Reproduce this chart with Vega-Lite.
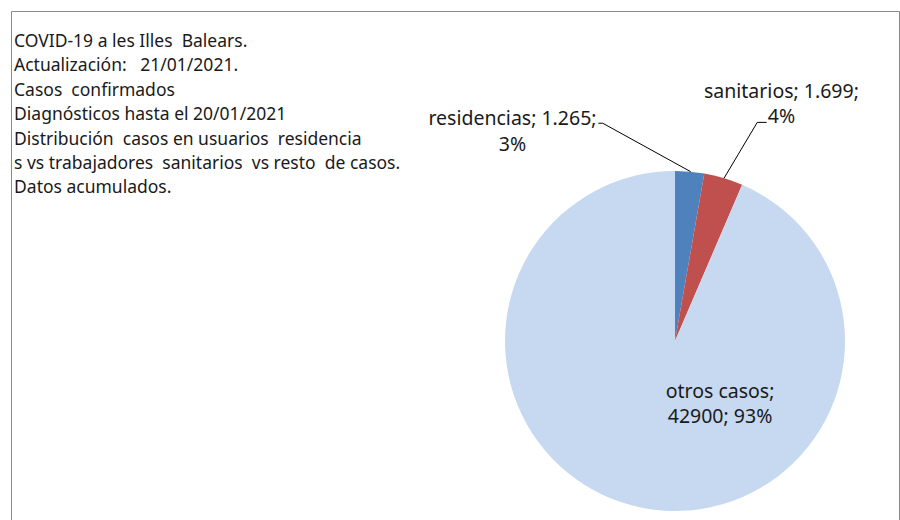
{
  "$schema": "https://vega.github.io/schema/vega-lite/v6.json",
  "width": 888,
  "height": 509,
  "autosize": "none",
  "padding": {"left": 11, "top": 11, "right": 1, "bottom": 0},
  "background": "white",
  "config": {"view": {"stroke": "#8a8a8a", "strokeWidth": 1}, "font": "Noto Sans"},
  "data": {"values": [
    {"categoria": "residencias", "casos": 1265, "etiqueta": ["residencias; 1.265;", "3%"]},
    {"categoria": "sanitarios", "casos": 1699, "etiqueta": ["sanitarios; 1.699;", "4%"]},
    {"categoria": "otros casos", "casos": 42900, "etiqueta": ["otros casos;", "42900; 93%"]}
  ]},
  "layer": [
    {
      "mark": {"type": "arc", "outerRadius": 170},
      "encoding": {
        "theta": {"field": "casos", "type": "quantitative", "stack": true},
        "order": {"field": "casos", "sort": "ascending"},
        "color": {"field": "categoria", "type": "nominal", "legend": null,
          "scale": {"domain": ["residencias", "sanitarios", "otros casos"], "range": ["#4F81BD", "#C0504D", "#C6D9F1"]}},
        "x": {"datum": 0, "type": "quantitative", "axis": null, "scale": {"domain": [-3.90588, 1.31765], "nice": false, "zero": false}},
        "y": {"datum": 0, "type": "quantitative", "axis": null, "scale": {"domain": [-1.05294, 1.94118], "nice": false, "zero": false}}
      }
    },
    {
      "data": {"values": [{}]},
      "mark": {"type": "rule", "color": "black", "strokeWidth": 1},
      "encoding": {"x": {"datum": -0.451, "type": "quantitative"}, "y": {"datum": 1.281, "type": "quantitative"}, "x2": {"datum": -0.425}, "y2": {"datum": 1.281}}
    },
    {
      "data": {"values": [{}]},
      "mark": {"type": "rule", "color": "black", "strokeWidth": 1},
      "encoding": {"x": {"datum": -0.425, "type": "quantitative"}, "y": {"datum": 1.281, "type": "quantitative"}, "x2": {"datum": 0.0924}, "y2": {"datum": 0.996}}
    },
    {
      "data": {"values": [{}]},
      "mark": {"type": "rule", "color": "black", "strokeWidth": 1},
      "encoding": {"x": {"datum": 0.539, "type": "quantitative"}, "y": {"datum": 1.286, "type": "quantitative"}, "x2": {"datum": 0.484}, "y2": {"datum": 1.286}}
    },
    {
      "data": {"values": [{}]},
      "mark": {"type": "rule", "color": "black", "strokeWidth": 1},
      "encoding": {"x": {"datum": 0.484, "type": "quantitative"}, "y": {"datum": 1.286, "type": "quantitative"}, "x2": {"datum": 0.288}, "y2": {"datum": 0.957}}
    },
    {
      "transform": [{"filter": "datum.categoria === 'residencias'"}],
      "mark": {"type": "text", "fontSize": 19.5, "align": "center", "baseline": "middle", "lineHeight": 26, "color": "#1a1a1a"},
      "encoding": {"text": {"field": "etiqueta"}, "x": {"datum": -0.956, "type": "quantitative"}, "y": {"datum": 1.306, "type": "quantitative"}}
    },
    {
      "transform": [{"filter": "datum.categoria === 'sanitarios'"}],
      "mark": {"type": "text", "fontSize": 19.5, "align": "center", "baseline": "middle", "lineHeight": 25, "color": "#1a1a1a"},
      "encoding": {"text": {"field": "etiqueta"}, "x": {"datum": 0.626, "type": "quantitative"}, "y": {"datum": 1.465, "type": "quantitative"}}
    },
    {
      "transform": [{"filter": "datum.categoria === 'otros casos'"}],
      "mark": {"type": "text", "fontSize": 19.5, "align": "center", "baseline": "middle", "lineHeight": 25, "color": "#1a1a1a"},
      "encoding": {"text": {"field": "etiqueta"}, "x": {"datum": 0.265, "type": "quantitative"}, "y": {"datum": -0.3, "type": "quantitative"}}
    },
    {
      "data": {"values": [{"texto": [
        "COVID-19 a les Illes\u00a0 Balears.",
        "Actualización:\u00a0\u00a0 21/01/2021.",
        "\u2005Casos\u00a0 confirmados",
        "Diagnósticos hasta el 20/01/2021",
        "\u2005Distribución\u00a0 casos en usuarios\u00a0 residencia",
        "s vs trabajadores\u00a0 sanitarios\u00a0 vs resto\u00a0 de casos.",
        "Datos acumulados."
      ]}]},
      "mark": {"type": "text", "fontSize": 17.5, "align": "left", "baseline": "middle", "lineHeight": 24.4, "color": "#1a1a1a"},
      "encoding": {"text": {"field": "texto"}, "x": {"datum": -3.888, "type": "quantitative"}, "y": {"datum": 1.759, "type": "quantitative"}}
    }
  ]
}
